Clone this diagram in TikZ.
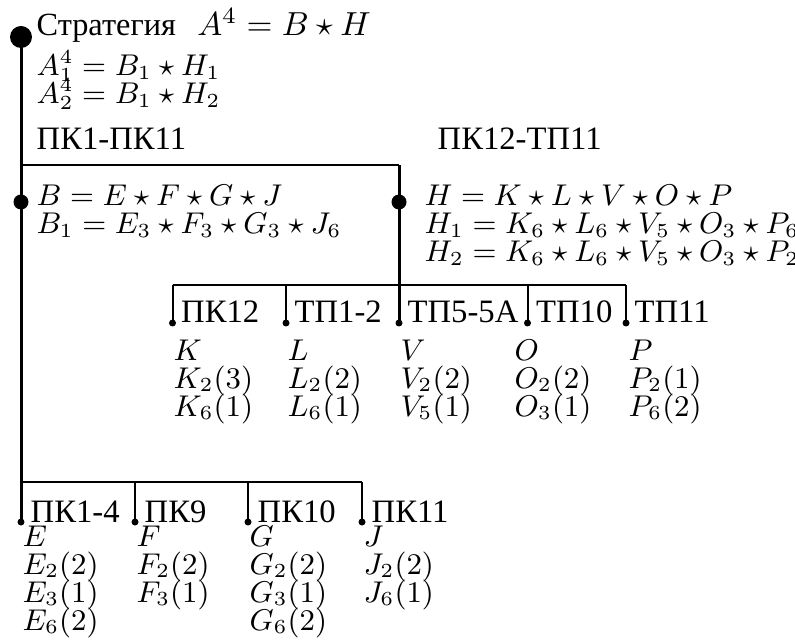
\documentclass[tikz,border=0pt]{standalone}
\usepackage{amsmath,amssymb}
\usepackage{fontspec}
\newfontfamily\cyrfont{Liberation Serif}
\usetikzlibrary{positioning}
\DeclareMathSizes{9.3}{9.3}{5.9}{4.6}
\lineskiplimit=-\maxdimen

\begin{document}
\begin{tikzpicture}[x=0.3pt,y=-0.3pt,
  spine/.style={line width=0.9pt},
  branch/.style={line width=0.6pt},
  lbl/.style={anchor=base west,inner sep=0pt,font=\fontsize{9.8}{8.4}\cyrfont},
  formula/.style={anchor=base west,inner sep=0pt,align=left,
    font=\fontsize{9.3}{8.4}\selectfont}]
  \useasboundingbox (0,0) rectangle (795,642);
  % strategy and its two halves
  \coordinate (S) at (21,37);
  \coordinate (Send) at (21,522);
  \coordinate (Bk) at (21,165);
  \coordinate (Hk) at (399,165);
  \coordinate (B) at (21,202);
  \coordinate (H) at (399,202);
  \draw[spine] (S)--(Send);
  \draw[branch] (Bk)--(Hk);
  \draw[spine] (Hk)--(399,323);
  \fill (S) circle (11);
  \fill (B) circle (7.5);
  \fill (H) circle (7.5);
  % multi-line nodes sit on the baseline of their last line
  \node[formula,font=\fontsize{9.7}{8.4}\selectfont] (strat) at (36,36)
    {{\cyrfont Стратегия}\ \ $A^4=B\star H$};
  \node[formula] (avar) at (36,104) {$A^4_1=B_1\star H_1$\\$A^4_2=B_1\star H_2$};
  \node[lbl] (pkB) at (36,150) {ПК1-ПК11};
  \node[lbl] (pkH) at (437,150) {ПК12-ТП11};
  \node[formula] (bform) at (36,234) {$B=E\star F\star G\star J$\\
    $B_1=E_3\star F_3\star G_3\star J_6$};
  \node[formula] (hform) at (424,262) {$H=K\star L\star V\star O\star P$\\
    $H_1=K_6\star L_6\star V_5\star O_3\star P_6$\\
    $H_2=K_6\star L_6\star V_5\star O_3\star P_2$};
  % H branch
  \foreach \x/\n/\t in {172.5/k/ПК12,286/l/ТП1-2,399/v/ТП5-5А,527.5/o/ТП10,626/p/ТП11}{
    \coordinate (top\n) at (\x,285);
    \coordinate (end\n) at (\x,323);
    \draw[branch] (top\n)--(end\n);
    \fill (end\n) circle (3.5);
    \node[lbl] (lab\n) at (\x+8,323) {\t};
  }
  \draw[branch] (topk)--(topp);
  \node[formula] (colk) at (173,416) {$K$\\$K_2(3)$\\$K_6(1)$};
  \node[formula] (coll) at (287,416) {$L$\\$L_2(2)$\\$L_6(1)$};
  \node[formula] (colv) at (400,416) {$V$\\$V_2(2)$\\$V_5(1)$};
  \node[formula] (colo) at (514,416) {$O$\\$O_2(2)$\\$O_3(1)$};
  \node[formula] (colp) at (628,416) {$P$\\$P_2(1)$\\$P_6(2)$};
  % B branch
  \foreach \x/\n/\t in {21/e/ПК1-4,135/f/ПК9,248/g/ПК10,362/j/ПК11}{
    \coordinate (top\n) at (\x,482);
    \coordinate (end\n) at (\x,522);
    \draw[branch] (top\n)--(end\n);
    \fill (end\n) circle (3.5);
    \node[lbl] (lab\n) at (\x+9,522) {\t};
  }
  \draw[branch] (tope)--(topj);
  \node[formula] (cole) at (22,630) {$E$\\$E_2(2)$\\$E_3(1)$\\$E_6(2)$};
  \node[formula] (colf) at (136,602) {$F$\\$F_2(2)$\\$F_3(1)$};
  \node[formula] (colg) at (249,630) {$G$\\$G_2(2)$\\$G_3(1)$\\$G_6(2)$};
  \node[formula] (colj) at (363,602) {$J$\\$J_2(2)$\\$J_6(1)$};
\end{tikzpicture}
\end{document}
